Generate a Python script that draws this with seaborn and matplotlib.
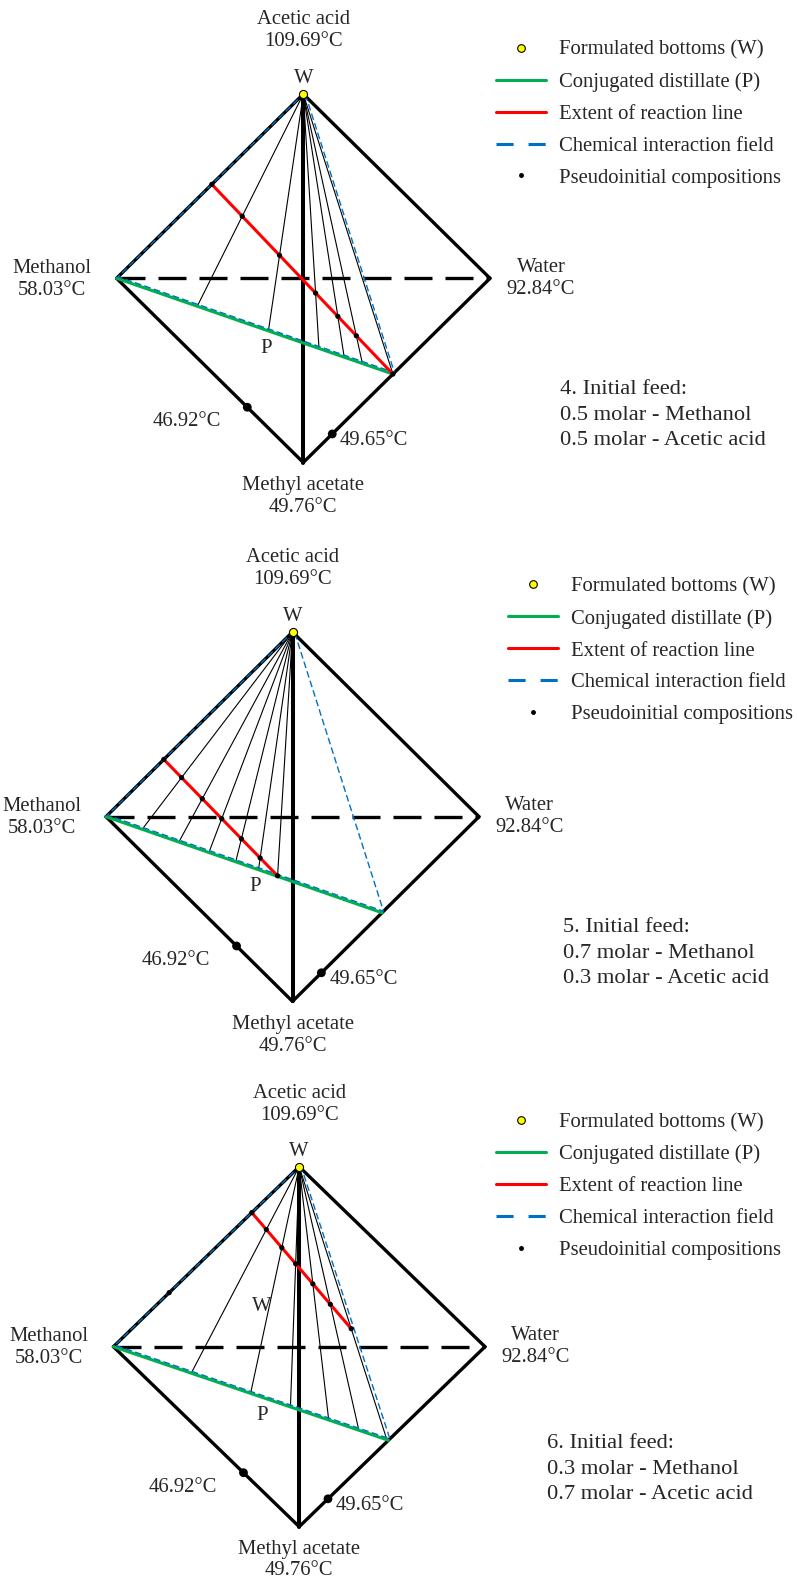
import numpy as np
import pandas as pd
import matplotlib
matplotlib.use("Agg")
import matplotlib.pyplot as plt
import matplotlib.transforms as mtransforms
from matplotlib.lines import Line2D
import seaborn as sns

sns.set_theme(style="white")
plt.rcParams["font.family"] = ["Liberation Serif", "DejaVu Serif"]

# ─── Data ─────────────────────────────────────────────────────────────────────
# compositions as (methanol, water, acetic acid, methyl acetate)

vertex_names = ["Methanol", "Water", "Acetic acid", "Methyl acetate"]
vertex_temps = ["58.03°C", "92.84°C", "109.69°C", "49.76°C"]
vertex_comps = [(1, 0, 0, 0), (0, 1, 0, 0), (0, 0, 1, 0), (0, 0, 0, 1)]

azeo_comps = [(0.30, 0.0, 0.0, 0.70), (0.0, 0.155, 0.0, 0.845)]
azeo_temps = ["46.92°C", "49.65°C"]

bottoms_comp = (0.0, 0.0, 1.0, 0.0)      # W
stoich_comp = (0.0, 0.48, 0.0, 0.52)     # end of distillate line

feed_no = ["4", "5", "6"]
feed_methanol = [0.5, 0.7, 0.3]
feed_acid = [0.5, 0.3, 0.7]

red_start = [(0.49, 0.0, 0.51, 0.0), (0.69, 0.0, 0.31, 0.0), (0.255, 0.0, 0.745, 0.0)]
red_end = [stoich_comp, (0.38, 0.30, 0.0, 0.32), (0.0, 0.28, 0.41, 0.31)]

# pseudoinitial compositions, as fraction along the extent of reaction line
pseudo_frac = [
    [0.0, 0.168, 0.374, 0.573, 0.696, 0.798, 1.0],
    [0.0, 0.156, 0.338, 0.509, 0.682, 0.847, 1.0],
    [0.0, 0.146, 0.302, 0.441, 0.614, 0.790, 1.0],
]
extra_points = [[], [], [(0.70, 0.0, 0.30, 0.0)]]

# ─── Layout (pixels) ──────────────────────────────────────────────────────────

W_PX, H_PX = 797, 1592
bands = [(0, 530), (530, 1060), (1060, 1592)]
centers = [(303.3, 278.3), (292.5, 816.7), (299.2, 1346.7)]
scales = [(186.7, 184.2), (186.5, 184.7), (185.8, 180.0)]
legend_pos = [(496, 114.0), (508.3, 650.7), (496, 1186.5)]
feed_pos = [(560, 415), (563, 953), (547, 1469)]

GREEN, RED, BLUE, YELLOW = "#00B050", "#FF0000", "#0070C0", "#FFFF00"
FS = 14.9


def proj(c):
    m, w, a, e = c
    return np.array([w - m, a - e], dtype=float)


def meet(p1, p2, q1, q2):
    d1, d2 = p2 - p1, q2 - q1
    s, _ = np.linalg.solve(np.array([d1, -d2]).T, q1 - p1)
    return p1 + s * d1


fig = plt.figure(figsize=(W_PX / 100, H_PX / 100), dpi=100)

for i in range(3):
    top, bot = bands[i]
    cx, cy = centers[i]
    sx, sy = scales[i]
    ax = fig.add_axes([0, 1 - bot / H_PX, 1, (bot - top) / H_PX])
    ax.set_xlim((0 - cx) / sx, (W_PX - cx) / sx)
    ax.set_ylim((cy - bot) / sy, (cy - top) / sy)
    ax.set_axis_off()

    M, Wa, AA, MA = [proj(c) for c in vertex_comps]
    Wb = proj(bottoms_comp)
    S = proj(stoich_comp)
    R0, R1 = proj(red_start[i]), proj(red_end[i])

    # tetrahedron edges
    for a, b in [(AA, M), (AA, Wa), (M, MA), (Wa, MA)]:
        ax.plot([a[0], b[0]], [a[1], b[1]], color="black", lw=2.4,
                solid_capstyle="round", zorder=2)
    ax.plot([M[0], Wa[0]], [M[1], Wa[1]], color="black", lw=2.4,
            dashes=(8.4, 3.9), zorder=2)

    # tie lines W -> pseudoinitial point -> distillate line
    rows = []
    for k, f in enumerate(pseudo_frac[i]):
        if f == 0:
            continue
        D = R0 + f * (R1 - R0)
        P = meet(Wb, D, M, S)
        rows += [(k, Wb[0], Wb[1]), (k, P[0], P[1])]
    ties = pd.DataFrame(rows, columns=["seg", "x", "y"])
    sns.lineplot(data=ties, x="x", y="y", units="seg", estimator=None,
                 sort=False, color="black", lw=0.8, legend=False, ax=ax, zorder=3)

    # Acetic acid - Methyl acetate edge
    ax.plot([AA[0], MA[0]], [AA[1], MA[1]], color="black", lw=2.9, zorder=4)

    # chemical interaction field
    shifted = mtransforms.offset_copy(ax.transData, fig=fig, x=1.5, y=1.5, units="dots")
    tri = np.array([Wb, M, S, Wb])
    ax.plot(tri[:, 0], tri[:, 1], color=BLUE, lw=1.0, dashes=(4.8, 2.4),
            transform=shifted, zorder=5)

    # distillate and extent of reaction lines
    ax.plot([M[0], S[0]], [M[1], S[1]], color=GREEN, lw=2.2, zorder=4.5)
    ax.plot([R0[0], R1[0]], [R0[1], R1[1]], color=RED, lw=2.2, zorder=5.5)

    # pseudoinitial compositions
    pts = [R0 + f * (R1 - R0) for f in pseudo_frac[i]] + [proj(c) for c in extra_points[i]]
    pts = np.array(pts)
    sns.scatterplot(x=pts[:, 0], y=pts[:, 1], s=14, color="black",
                    edgecolor="none", ax=ax, zorder=7)

    # azeotropes
    az = np.array([proj(c) for c in azeo_comps])
    sns.scatterplot(x=az[:, 0], y=az[:, 1], s=40, color="black",
                    edgecolor="none", ax=ax, zorder=7)

    # formulated bottoms
    ax.scatter([Wb[0]], [Wb[1]], s=34, color=YELLOW, edgecolor="black",
               linewidth=0.8, zorder=8)

    # labels
    tkw = dict(fontsize=FS, ha="center", va="center", linespacing=1.19)
    ax.text(0, 1.345, f"{vertex_names[2]}\n{vertex_temps[2]}", **tkw)
    ax.text(-1.345, -0.005, f"{vertex_names[0]}\n{vertex_temps[0]}", **tkw)
    ax.text(1.273, 0.0, f"{vertex_names[1]}\n{vertex_temps[1]}", **tkw)
    ax.text(0, -1.185, f"{vertex_names[3]}\n{vertex_temps[3]}", **tkw)
    ax.text(0, 1.085, "W", **tkw)
    ax.text(-0.2, -0.38, "P", **tkw)
    ax.text(-0.625, -0.78, azeo_temps[0], **tkw)
    ax.text(0.38, -0.88, azeo_temps[1], **tkw)
    if extra_points[i]:
        ax.text(-0.2, 0.222, "W", **tkw)

    # feed text
    fx, fy = feed_pos[i]
    feed_txt = (f"{feed_no[i]}. Initial feed:\n"
                f"{feed_methanol[i]} molar - Methanol\n"
                f"{feed_acid[i]} molar - Acetic acid")
    ax.text(fx / W_PX, (bot - fy) / (bot - top), feed_txt, transform=ax.transAxes,
            fontsize=16.2, ha="left", va="center", linespacing=1.45)

    # legend
    handles = [
        Line2D([], [], ls="none", marker="o", mfc=YELLOW, mec="black", mew=0.8, ms=5.5),
        Line2D([], [], color=GREEN, lw=2.2),
        Line2D([], [], color=RED, lw=2.2),
        Line2D([], [], color=BLUE, lw=2.2, dashes=(5.6, 4.9)),
        Line2D([], [], ls="none", marker="o", color="black", ms=2.5),
    ]
    labels = ["Formulated bottoms (W)", "Conjugated distillate (P)",
              "Extent of reaction line", "Chemical interaction field",
              "Pseudoinitial compositions"]
    lx, ly = legend_pos[i]
    ax.legend(handles, labels, loc="center left",
              bbox_to_anchor=(lx / W_PX, (bot - ly) / (bot - top)),
              frameon=False, borderpad=0, borderaxespad=0, fontsize=FS,
              handlelength=2.42, handletextpad=0.63, labelspacing=0.6)

fig.savefig("out.png", dpi=100)
